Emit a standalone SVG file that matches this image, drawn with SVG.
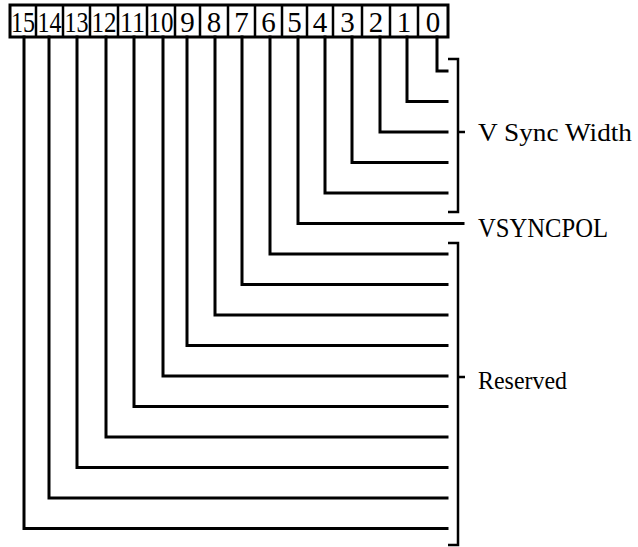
<svg xmlns="http://www.w3.org/2000/svg" width="638" height="547" viewBox="0 0 638 547">
<style>
.ln{fill:none;stroke:#000;stroke-width:3;stroke-linejoin:miter;stroke-linecap:square}
.br{fill:none;stroke:#000;stroke-width:2.5}
.d{font-family:"Liberation Serif",serif;font-size:29px;text-anchor:middle;fill:#000}
.lb{font-family:"Liberation Serif",serif;font-size:26px;fill:#000}
</style>
<rect width="638" height="547" fill="#fff"/>
<g id="register">
<rect x="10" y="5" width="438" height="32" fill="#fff" stroke="#000" stroke-width="3"/>
<path d="M36 5V37M63 5V37M90 5V37M118 5V37M147 5V37M175 5V37M200 5V37M228 5V37M255 5V37M282 5V37M307 5V37M333 5V37M362 5V37M390 5V37M418 5V37" stroke="#000" stroke-width="2.5"/>
<text class="d" x="23" y="32" textLength="24" lengthAdjust="spacingAndGlyphs">15</text>
<text class="d" x="49.5" y="32" textLength="24" lengthAdjust="spacingAndGlyphs">14</text>
<text class="d" x="76.5" y="32" textLength="24" lengthAdjust="spacingAndGlyphs">13</text>
<text class="d" x="104" y="32" textLength="25" lengthAdjust="spacingAndGlyphs">12</text>
<text class="d" x="132.5" y="32" textLength="25" lengthAdjust="spacingAndGlyphs">11</text>
<text class="d" x="161" y="32" textLength="25" lengthAdjust="spacingAndGlyphs">10</text>
<text class="d" x="187.5" y="32">9</text>
<text class="d" x="214" y="32">8</text>
<text class="d" x="241.5" y="32">7</text>
<text class="d" x="268.5" y="32">6</text>
<text class="d" x="294.5" y="32">5</text>
<text class="d" x="320" y="32">4</text>
<text class="d" x="347.5" y="32">3</text>
<text class="d" x="376" y="32">2</text>
<text class="d" x="404" y="32">1</text>
<text class="d" x="433" y="32">0</text>
</g>
<g id="connectors">
<path class="ln" d="M437 37V71H447"/>
<path class="ln" d="M407 37V101.5H447"/>
<path class="ln" d="M380 37V132H447"/>
<path class="ln" d="M352 37V162.5H447"/>
<path class="ln" d="M325 37V193H447"/>
<path class="ln" d="M298 37V223.5H463"/>
<path class="ln" d="M270 37V254H447"/>
<path class="ln" d="M242 37V284.5H447"/>
<path class="ln" d="M215 37V315H447"/>
<path class="ln" d="M187 37V345.5H447"/>
<path class="ln" d="M163 37V376H447"/>
<path class="ln" d="M134 37V406.5H447"/>
<path class="ln" d="M106 37V437H447"/>
<path class="ln" d="M77 37V467.5H447"/>
<path class="ln" d="M49 37V498H447"/>
<path class="ln" d="M24 37V528.5H447"/>
</g>
<g id="vsync-width">
<path class="br" d="M448 59H458V212H448M458 132H465"/>
<text class="lb" x="478" y="141" textLength="154" lengthAdjust="spacingAndGlyphs">V Sync Width</text>
</g>
<g id="vsyncpol">
<text class="lb" x="478" y="237" style="font-size:27px" textLength="130" lengthAdjust="spacingAndGlyphs">VSYNCPOL</text>
</g>
<g id="reserved">
<path class="br" d="M448 243H458V545H448M458 377H465"/>
<text class="lb" x="478" y="389" textLength="89" lengthAdjust="spacingAndGlyphs">Reserved</text>
</g>
</svg>
